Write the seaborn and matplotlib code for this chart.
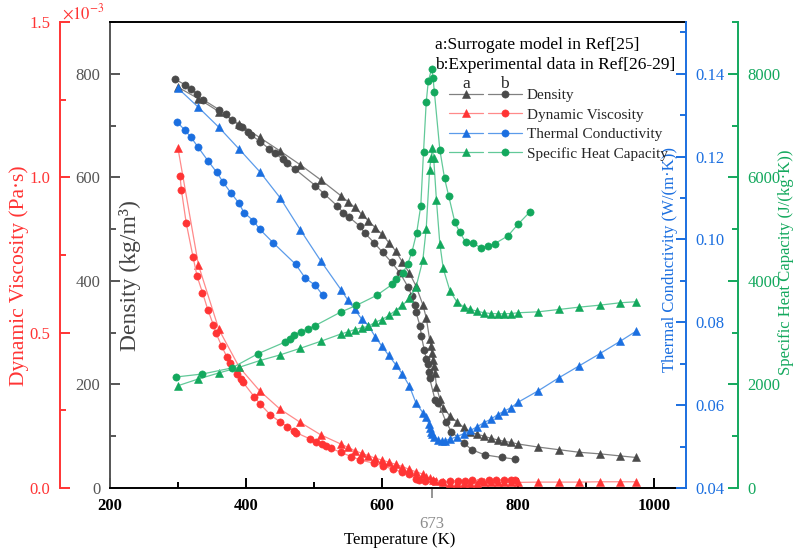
import matplotlib
matplotlib.use("Agg")
import matplotlib.pyplot as plt
import seaborn as sns
from matplotlib.lines import Line2D
from matplotlib.legend_handler import HandlerTuple
from matplotlib.ticker import MultipleLocator, FormatStrFormatter

# ---------------- data ----------------
# Density, model (a)
T_dens_a = [300, 330, 360, 390, 420, 450, 480, 510, 540, 550, 560, 570, 580, 590, 600, 610, 620, 630,
            640, 650, 660, 665, 670, 672, 673, 675, 676, 678, 680, 685, 690, 700, 710, 720, 730, 740,
            750, 760, 770, 780, 790, 800, 830, 860, 890, 920, 950, 973]
dens_a = [774, 752, 727, 703, 677, 651, 624, 595, 564, 553, 542, 529, 516, 503, 490, 474, 458, 436,
          416, 390, 354, 329, 287, 274, 261, 248, 235, 222, 196, 172, 155, 139, 128, 117, 108, 104,
          100, 96, 93, 90, 88, 85, 79, 74, 69, 66, 62, 59]
# Density, experiment (b)
T_dens_b = [295, 310, 319, 328, 337, 360, 370, 379, 390, 394, 403, 407, 421, 434, 442, 454, 460, 472,
            502, 515, 534, 543, 551, 567, 575, 588, 601, 614, 626, 638, 644, 648, 650, 656, 658, 662,
            665, 667, 669, 670, 678, 683, 694, 702, 720, 732, 751, 776, 795]
dens_b = [790, 779, 771, 761, 750, 731, 722, 711, 700, 697, 687, 682, 669, 655, 647, 635, 628, 616,
          584, 568, 545, 532, 524, 506, 492, 474, 455, 436, 416, 389, 371, 354, 340, 312, 293, 267,
          250, 240, 225, 212, 170, 164, 128, 109, 87, 74, 64, 59, 56]

# Dynamic viscosity (x1e-3 Pa.s), model (a)
T_visc_a = [300, 330, 360, 390, 420, 450, 480, 510, 540, 550, 560, 570, 580, 590, 600, 610, 620, 630,
            640, 650, 660, 665, 670, 675, 680, 690, 700, 710, 720, 730, 740, 750, 760, 770, 780, 790,
            800, 830, 860, 890, 920, 950, 973]
visc_a = [1.093, 0.718, 0.511, 0.389, 0.313, 0.254, 0.211, 0.171, 0.141, 0.131, 0.120, 0.112, 0.104,
          0.096, 0.090, 0.083, 0.076, 0.069, 0.060, 0.052, 0.045, 0.037, 0.031, 0.026, 0.021, 0.018,
          0.017, 0.017, 0.017, 0.017, 0.017, 0.018, 0.018, 0.018, 0.018, 0.018, 0.018, 0.019, 0.019,
          0.019, 0.020, 0.020, 0.020]
# Dynamic viscosity, experiment (b)
T_visc_b = [303, 305, 312, 322, 328, 336, 344, 352, 356, 364, 372, 377, 387, 392, 395, 412, 421, 436,
            450, 461, 471, 474, 494, 503, 512, 517, 525, 539, 555, 568, 588, 601, 616, 629, 639, 650,
            654, 663, 675, 688, 700, 712, 722, 733, 745, 757, 768, 780, 790, 796]
visc_b = [1.004, 0.959, 0.854, 0.745, 0.682, 0.629, 0.573, 0.525, 0.498, 0.458, 0.421, 0.403, 0.367,
          0.351, 0.342, 0.294, 0.270, 0.235, 0.213, 0.197, 0.184, 0.178, 0.158, 0.149, 0.142, 0.136,
          0.128, 0.115, 0.101, 0.090, 0.080, 0.071, 0.061, 0.052, 0.044, 0.030, 0.026, 0.024, 0.022,
          0.020, 0.022, 0.024, 0.023, 0.025, 0.024, 0.026, 0.025, 0.027, 0.026, 0.026]

# Thermal conductivity, model (a)
T_tc_a = [300, 330, 360, 390, 420, 450, 480, 510, 540, 550, 560, 570, 580, 590, 600, 610, 620, 630,
          640, 650, 660, 665, 669, 670, 672, 674, 677, 682, 688, 692, 700, 710, 720, 730, 740, 750,
          760, 770, 780, 790, 800, 830, 860, 890, 920, 950, 973]
tc_a = [0.1365, 0.1319, 0.1271, 0.1218, 0.1164, 0.1101, 0.1023, 0.0948, 0.0878, 0.0853, 0.0831,
        0.0808, 0.0792, 0.0765, 0.0742, 0.0720, 0.0698, 0.0675, 0.0647, 0.0605, 0.0582, 0.0571,
        0.0555, 0.0545, 0.0536, 0.0531, 0.0523, 0.0516, 0.0514, 0.0514, 0.0518, 0.0524, 0.0531,
        0.0539, 0.0548, 0.0558, 0.0566, 0.0577, 0.0586, 0.0594, 0.0607, 0.0635, 0.0666, 0.0695,
        0.0724, 0.0754, 0.0778]
# Thermal conductivity, experiment (b)
T_tc_b = [299, 310, 319, 329, 344, 357, 366, 378, 389, 397, 411, 420, 440, 473, 487, 502, 513]
tc_b = [0.1283, 0.1264, 0.1247, 0.1224, 0.1190, 0.1162, 0.1139, 0.1112, 0.1089, 0.1065, 0.1045,
        0.1025, 0.0992, 0.0940, 0.0907, 0.0889, 0.0865]

# Specific heat capacity, model (a)
T_cp_a = [300, 330, 360, 390, 420, 450, 480, 510, 540, 550, 560, 570, 580, 590, 600, 610, 620, 630,
          640, 650, 660, 665, 670, 672, 674, 676, 680, 685, 690, 700, 710, 720, 730, 740, 750, 760,
          770, 780, 790, 800, 830, 860, 890, 920, 950, 973]
cp_a = [1976, 2106, 2222, 2331, 2460, 2570, 2699, 2834, 2977, 3016, 3060, 3093, 3124, 3202, 3254,
        3332, 3428, 3525, 3661, 3880, 4400, 5011, 6150, 6367, 6560, 6367, 5560, 4720, 4240, 3802,
        3597, 3500, 3448, 3415, 3384, 3370, 3365, 3365, 3370, 3384, 3403, 3448, 3493, 3531, 3577, 3597]
# Specific heat capacity, experiment (b)
T_cp_b = [297, 336, 379, 418, 458, 464, 471, 481, 491, 502, 539, 562, 592, 615, 621, 631, 638, 644,
          651, 657, 661, 665, 668, 673, 675, 677, 685, 692, 698, 707, 714, 723, 734, 745, 756, 766,
          785, 800, 818]
cp_b = [2144, 2202, 2318, 2596, 2822, 2886, 2964, 3015, 3074, 3138, 3396, 3525, 3719, 3932, 4029,
        4158, 4333, 4558, 4933, 5449, 6483, 7452, 7851, 8097, 7916, 7645, 6533, 5979, 5643, 5139,
        4945, 4751, 4726, 4643, 4674, 4720, 4868, 5094, 5340]

x_ticks = [200, 400, 600, 800, 1000]
dens_ticks = [0, 200, 400, 600, 800]
visc_ticks = [0.0, 0.5, 1.0, 1.5]
tc_ticks = [0.04, 0.06, 0.08, 0.10, 0.12, 0.14]
cp_ticks = [0, 2000, 4000, 6000, 8000]
legend_labels = ["Density", "Dynamic Viscosity", "Thermal Conductivity", "Specific Heat Capacity"]

# ---------------- style ----------------
sns.set_theme(style="white")
plt.rcParams['font.family'] = ['Liberation Serif', 'DejaVu Serif']
plt.rcParams['mathtext.fontset'] = 'stix'

RED, RED_L = '#ff3434', '#ff8a8a'
BLUE, BLUE_L = '#1b6fe0', '#5b9bea'
GREEN, GREEN_L = '#13a85d', '#62c999'
GRAY, GRAY_L = '#4a4a4a', '#808080'
AXGRAY = '#555555'
FS_TICK = 12
FS_LAB = 12
SPW = 1.4

fig = plt.figure(figsize=(7.98, 5.52), dpi=100)
ax = fig.add_axes([110 / 798, 64 / 552, 576 / 798, 466 / 552])
ax_mu = ax.twinx()
ax_k = ax.twinx()
ax_cp = ax.twinx()


def draw(axh, T, v, lc, mc, marker, ms):
    sns.lineplot(x=T, y=v, ax=axh, estimator=None, sort=False, color=lc, lw=0.9,
                 marker=marker, markersize=ms, markerfacecolor=mc, markeredgecolor=mc,
                 markeredgewidth=0.4, legend=False)


MS_T, MS_C = 5.4, 5.2
draw(ax, T_dens_a, dens_a, GRAY_L, GRAY, '^', MS_T)
draw(ax, T_dens_b, dens_b, GRAY_L, GRAY, 'o', MS_C)
draw(ax_mu, T_visc_a, visc_a, RED_L, RED, '^', MS_T)
draw(ax_mu, T_visc_b, visc_b, RED_L, RED, 'o', MS_C)
draw(ax_k, T_tc_a, tc_a, BLUE_L, BLUE, '^', MS_T)
draw(ax_k, T_tc_b, tc_b, BLUE_L, BLUE, 'o', MS_C)
draw(ax_cp, T_cp_a, cp_a, GREEN_L, GREEN, '^', MS_T)
draw(ax_cp, T_cp_b, cp_b, GREEN_L, GREEN, 'o', MS_C)

# ---------------- axes ----------------
ax.set_xlim(200, 1047)
ax.set_ylim(0, 900)
ax_mu.set_ylim(0, 1.5)
ax_k.set_ylim(0.04, 0.1525)
ax_cp.set_ylim(0, 9000)

# main axes (density + x)
ax.set_xticks(x_ticks)
ax.set_xticklabels([str(t) for t in x_ticks], fontweight='bold')
ax.xaxis.set_minor_locator(MultipleLocator(100))
ax.tick_params(axis='x', which='both', direction='in', bottom=True, top=False,
               labelsize=FS_TICK, pad=7.5, width=SPW, colors='black')
ax.tick_params(axis='x', which='major', length=7)
ax.tick_params(axis='x', which='minor', length=4)
ax.set_yticks(dens_ticks)
ax.yaxis.set_minor_locator(MultipleLocator(100))
ax.tick_params(axis='y', which='both', direction='in', left=True, right=False,
               labelsize=FS_TICK, pad=7, width=SPW, colors=AXGRAY)
ax.tick_params(axis='y', which='major', length=7)
ax.tick_params(axis='y', which='minor', length=4)
ax.spines['left'].set_color(AXGRAY)
ax.spines['top'].set_color('black')
ax.spines['bottom'].set_color('black')
ax.spines['right'].set_visible(False)
for s in ['left', 'top', 'bottom']:
    ax.spines[s].set_linewidth(SPW)
ax.set_xlabel('Temperature (K)', fontsize=FS_LAB, color='black')
ax.xaxis.set_label_coords(0.503, -0.094)
ax.set_ylabel('Density (kg/m³)', fontsize=17, color='#444444')
ax.yaxis.label.set_verticalalignment('center')
ax.yaxis.set_label_coords(0.035, 0.455)

# viscosity axis (outer left, red)
for s in ['right', 'top', 'bottom']:
    ax_mu.spines[s].set_visible(False)
ax_mu.spines['left'].set_visible(True)
ax_mu.spines['left'].set_position(('axes', -50 / 576))
ax_mu.spines['left'].set_color(RED)
ax_mu.spines['left'].set_linewidth(SPW)
ax_mu.yaxis.set_ticks_position('left')
ax_mu.yaxis.set_label_position('left')
ax_mu.set_yticks(visc_ticks)
ax_mu.yaxis.set_major_formatter(FormatStrFormatter('%.1f'))
ax_mu.yaxis.set_minor_locator(MultipleLocator(0.25))
ax_mu.tick_params(axis='y', which='both', direction='in', labelsize=FS_TICK, pad=7,
                  width=SPW, colors=RED)
ax_mu.tick_params(axis='y', which='major', length=7)
ax_mu.tick_params(axis='y', which='minor', length=4)
ax_mu.set_ylabel('Dynamic Viscosity (Pa·s)', fontsize=15.5, color=RED)
ax_mu.yaxis.label.set_verticalalignment('center')
ax_mu.yaxis.set_label_coords(-0.158, 0.455)
ax_mu.text(-50 / 576 + 0.004, 1.02, r'$\times10^{-3}$', transform=ax_mu.transAxes,
           color=RED, fontsize=12, ha='left', va='center')

# thermal conductivity axis (right, blue)
for s in ['left', 'top', 'bottom']:
    ax_k.spines[s].set_visible(False)
ax_k.spines['right'].set_color(BLUE)
ax_k.spines['right'].set_linewidth(SPW)
ax_k.set_yticks(tc_ticks)
ax_k.yaxis.set_major_formatter(FormatStrFormatter('%.2f'))
ax_k.yaxis.set_minor_locator(MultipleLocator(0.01))
ax_k.tick_params(axis='y', which='both', direction='in', labelsize=FS_TICK, pad=7,
                 width=SPW, colors=BLUE)
ax_k.tick_params(axis='y', which='major', length=7)
ax_k.tick_params(axis='y', which='minor', length=4)
ax_k.set_ylabel('Thermal Conductivity (W/(m·K))', fontsize=FS_LAB, color=BLUE)
ax_k.yaxis.label.set_verticalalignment('center')
ax_k.yaxis.set_label_coords(0.972, 0.49)

# specific heat axis (outer right, green)
for s in ['left', 'top', 'bottom']:
    ax_cp.spines[s].set_visible(False)
ax_cp.spines['right'].set_position(('axes', (738 - 110) / 576))
ax_cp.spines['right'].set_color(GREEN)
ax_cp.spines['right'].set_linewidth(SPW)
ax_cp.set_yticks(cp_ticks)
ax_cp.yaxis.set_minor_locator(MultipleLocator(1000))
ax_cp.tick_params(axis='y', which='both', direction='in', labelsize=FS_TICK, pad=7,
                  width=SPW, colors=GREEN)
ax_cp.tick_params(axis='y', which='major', length=7)
ax_cp.tick_params(axis='y', which='minor', length=4)
ax_cp.set_ylabel('Specific Heat Capacity (J/(kg·K))', fontsize=FS_LAB, color=GREEN)
ax_cp.yaxis.label.set_verticalalignment('center')
ax_cp.yaxis.set_label_coords(1.174, 0.484)

# critical temperature marker on x-axis
sec = ax.secondary_xaxis('bottom')
sec.set_xticks([673])
sec.set_xticklabels(['673'])
sec.tick_params(axis='x', which='major', direction='out', length=7, width=1.3,
                color='#8c8c8c', labelcolor='#8c8c8c', labelsize=FS_TICK, pad=13)
sec.spines['bottom'].set_visible(False)

# ---------------- legend ----------------
def mk(lc, mc, marker, ms):
    return Line2D([], [], color=lc, lw=0.9, marker=marker, markersize=ms,
                  markerfacecolor=mc, markeredgecolor=mc, markeredgewidth=0.4)

handles = [
    (mk(GRAY_L, GRAY, '^', MS_T), mk(GRAY_L, GRAY, 'o', MS_C)),
    (mk(RED_L, RED, '^', MS_T), mk(RED_L, RED, 'o', MS_C)),
    (mk(BLUE_L, BLUE, '^', MS_T), mk(BLUE_L, BLUE, 'o', MS_C)),
    (mk(GREEN_L, GREEN, '^', MS_T), mk(GREEN_L, GREEN, 'o', MS_C)),
]
leg = ax_cp.legend(handles, legend_labels, handler_map={tuple: HandlerTuple(ndivide=None, pad=0.3)},
                   loc='upper left', bbox_to_anchor=(0.5885, 0.8575), bbox_transform=ax.transAxes,
                   frameon=False, fontsize=11, handlelength=4.8, handletextpad=0.3,
                   labelspacing=0.38, borderpad=0, borderaxespad=0, numpoints=1)
ax_cp.text(0.564, 0.9506, 'a:Surrogate model in Ref[25]', transform=ax.transAxes,
           fontsize=12.5, ha='left', va='center', color='black')
ax_cp.text(0.564, 0.9077, 'b:Experimental data in Ref[26-29]', transform=ax.transAxes,
           fontsize=12.5, ha='left', va='center', color='black')
ax_cp.text(0.619, 0.867, 'a', transform=ax.transAxes, fontsize=12.5, ha='center', va='center')
ax_cp.text(0.6845, 0.867, 'b', transform=ax.transAxes, fontsize=12.5, ha='center', va='center')

fig.savefig('out.png', dpi=100)
